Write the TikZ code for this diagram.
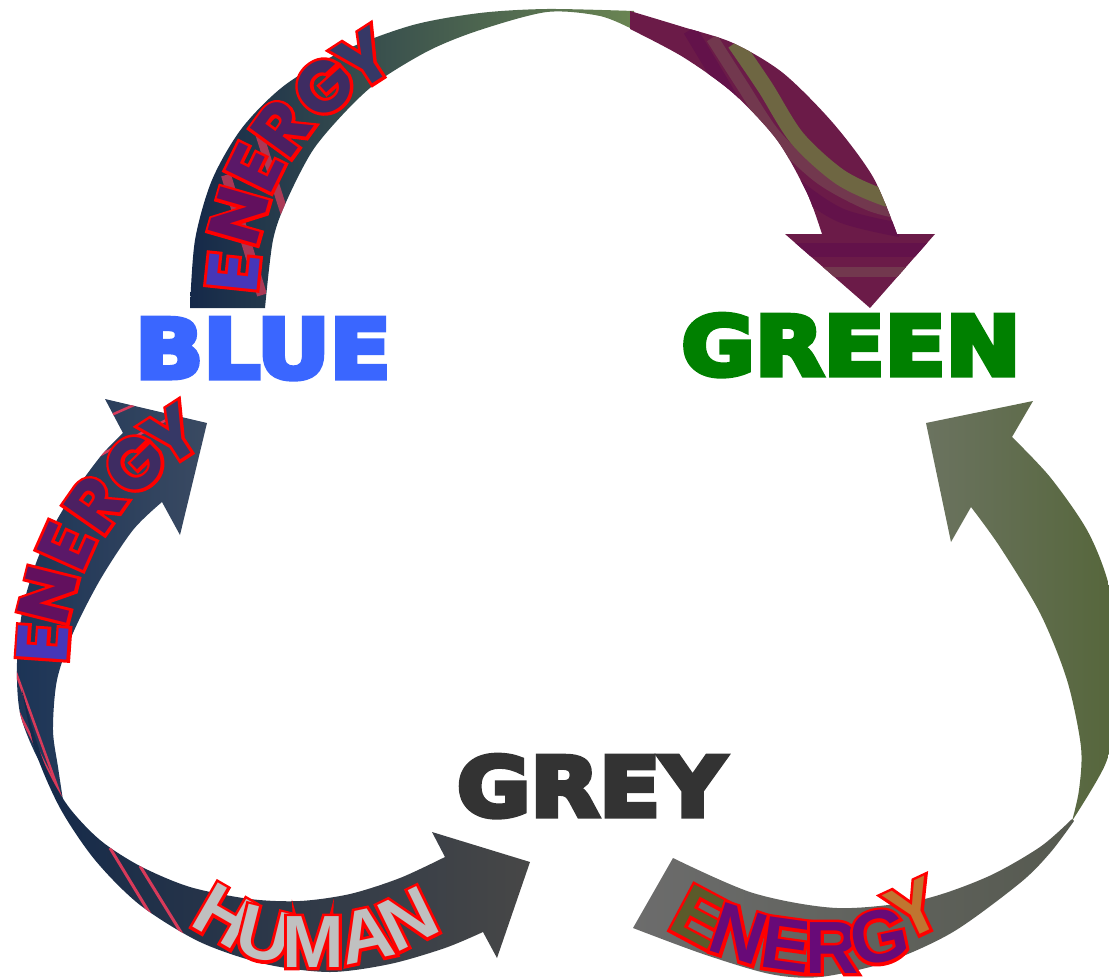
\documentclass[tikz,border=0pt]{standalone}
\usepackage{fontspec}
\newfontfamily\dejavu{DejaVu Sans}
\newfontfamily\pop{Poppins}
\newfontfamily\lib{Liberation Sans}
\newcommand\olon{\special{pdf:literal direct 2 Tr 6 w 1 0 0 RG}}
\newcommand\oloff{\special{pdf:literal direct 0 Tr}}
\newcommand\heavyon{\special{pdf:literal direct 2 Tr 5 w}}
\newcommand\heavy[1]{\scalebox{1.09}[1]{\heavyon #1\oloff}}
\newcommand\popf{\pop\bfseries\fontsize{72}{72}\selectfont}
\newcommand\libf{\lib\bfseries\fontsize{74}{74}\selectfont}
\newcommand\curvlet[6]{\node[letter, font=#5, text=#6, rotate=#3] (#1) at #2 {\rlap{\olon #4\oloff}#4};}
\definecolor{navyA}{HTML}{15294A}
\definecolor{navyB}{HTML}{2C3F4A}
\definecolor{oliveA}{HTML}{6A8552}
\definecolor{maroon}{HTML}{6B1B48}
\definecolor{maroonD}{HTML}{63124A}
\definecolor{maroonL}{HTML}{72384E}
\definecolor{olivestripe}{HTML}{6E6642}
\definecolor{leftL}{HTML}{1C3456}
\definecolor{leftR}{HTML}{3A4A62}
\definecolor{humL}{HTML}{13294A}
\definecolor{humR}{HTML}{474747}
\definecolor{rgtL}{HTML}{6B7360}
\definecolor{rgtR}{HTML}{55663A}
\definecolor{botL}{HTML}{6C6C6C}
\definecolor{botR}{HTML}{565A50}
\definecolor{redstripe}{HTML}{D83A5A}
\definecolor{blueT}{HTML}{3A66FF}
\definecolor{greenT}{HTML}{008000}
\definecolor{greyT}{HTML}{333333}
\definecolor{pA}{HTML}{4636B8}
\definecolor{pB}{HTML}{62105E}
\definecolor{pC}{HTML}{5A1868}
\definecolor{pD}{HTML}{4C2062}
\definecolor{pE}{HTML}{3E2C62}
\definecolor{pF}{HTML}{363866}
\definecolor{bE}{HTML}{5B5A2A}
\definecolor{bP}{HTML}{680A78}
\definecolor{bY}{HTML}{C07530}
\definecolor{humF}{HTML}{C0C0C0}
\tikzset{
  letter/.style={inner sep=0pt, anchor=center},
  bigword/.style={inner sep=0pt, anchor=base},
  topL/.style={insert path={plot[smooth] coordinates{(190,308) (195,240) (212,180) (242,128) (285,85) (345,50) (413,25) (480,13) (547,9) (634,11)} -- plot[smooth] coordinates{(634,30) (600,16) (547,12) (480,30) (430,50) (380,80) (347,110) (313,150) (287,200) (273,240) (265,308)} -- cycle}},
  topR/.style={insert path={plot[smooth] coordinates{(630,11) (683,27) (733,43) (783,73) (833,123) (873,177) (897,234)} -- (935,234) -- (870,308) -- (785,234) -- plot[smooth] coordinates{(822,234) (807,193) (777,140) (733,93) (683,57) (630,29)} -- cycle}},
  leftA/.style={insert path={plot[smooth] coordinates{(123,433) (100,457) (67,503) (40,553) (23,607) (17,663) (20,713) (37,757) (63,800)} -- plot[smooth] coordinates{(63,800) (58,767) (53,730) (57,680) (73,633) (100,580) (133,530) (162,502)} -- (180,535) -- (207,423) -- (105,399) -- cycle}},
  humA/.style={insert path={plot[smooth] coordinates{(22,690) (35,750) (60,808) (95,860) (140,905) (200,942) (265,964) (330,972) (390,964) (445,948) (483,932)} -- (497,958) -- (530,862) -- (432,832) -- plot[smooth] coordinates{(445,857) (400,878) (350,894) (300,901) (250,899) (190,887) (140,866) (100,840) (68,806) (45,765) (30,720)} -- cycle}},
  rgtA/.style={insert path={(926,423) -- (1033,401) -- plot[smooth] coordinates{(1012,437) (1050,477) (1087,530) (1108,582) (1120,650) (1117,715) (1105,765) (1072,821)} -- plot[smooth] coordinates{(1072,821) (1079,790) (1081,747) (1067,680) (1040,613) (1000,547) (971,507)} -- (951,542) -- cycle}},
  botA/.style={insert path={plot[smooth] coordinates{(1074,821) (1050,853) (1020,883) (953,932) (887,962) (820,977) (770,974) (703,954) (633,928)} -- plot[smooth] coordinates{(673,858) (753,893) (837,908) (920,900) (987,877) (1040,847) (1072,819)} -- cycle}}
}
\begin{document}
\begin{tikzpicture}[x=1pt,y=-1pt]
\useasboundingbox (0,0) rectangle (1109,980);
% top arrow BLUE -> GREEN
\shade[left color=navyA, middle color=navyB, right color=oliveA, topL];
\begin{scope}
  \path[clip, topL];
  \draw[line width=10, redstripe, opacity=0.75] (226,175) -- (262,295);
  \draw[line width=8, redstripe, opacity=0.75] (258,130) -- (285,215);
\end{scope}
\fill[maroon, topR];
\begin{scope}
  \path[clip, topR];
  \draw[line width=14, maroonD] plot[smooth] coordinates{(690,30) (720,80) (750,130) (790,180) (840,215) (900,230)};
  \draw[line width=12, maroonL] plot[smooth] coordinates{(712,38) (742,85) (775,135) (820,178) (870,205) (910,215)};
  \draw[line width=16, olivestripe] plot[smooth] coordinates{(735,43) (765,87) (797,138) (840,177) (885,198) (920,205)};
  \draw[line width=14, maroonD] (790,250) -- (930,250);
  \draw[line width=10, maroonL] (800,272) -- (920,272);
\end{scope}
% left arrow -> BLUE
\shade[left color=leftL, right color=leftR, leftA];
\begin{scope}
  \path[clip, leftA];
  \draw[line width=2.5, redstripe] (100,420) -- (150,398);
  \draw[line width=2.5, redstripe] (95,458) -- (185,410);
  \draw[line width=2.5, redstripe] (15,670) -- (62,800);
  \draw[line width=2.5, redstripe] (15,705) -- (58,790);
\end{scope}
% human arrow -> GREY
\shade[left color=humL, right color=humR, humA];
\begin{scope}
  \path[clip, humA];
  \draw[line width=3, redstripe] (110,848) -- (178,960);
  \draw[line width=3, redstripe] (140,866) -- (195,955);
\end{scope}
% right / bottom arrow -> GREEN
\shade[left color=botL, right color=botR, botA];
\shade[left color=rgtL, right color=rgtR, rgtA];
% big words
\node[bigword, text=blueT, font=\dejavu\bfseries\fontsize{82}{82}\selectfont] (blue) at (263,378) {\heavy{BLUE}};
\node[bigword, text=greenT, font=\dejavu\bfseries\fontsize{82}{82}\selectfont] (green) at (851,375) {\heavy{GREEN}};
\node[bigword, text=greyT, font=\dejavu\bfseries\fontsize{82}{82}\selectfont] (grey) at (591,816) {\heavy{GREY}};
% top ENERGY
\curvlet{ta}{(233,272)}{84}{E}{\popf}{pA}
\curvlet{tb}{(239,216)}{74}{N}{\popf}{pB}
\curvlet{tc}{(255,168)}{64}{E}{\popf}{pC}
\curvlet{td}{(282,128)}{54}{R}{\popf}{pD}
\curvlet{te}{(324,87)}{42}{G}{\popf}{pE}
\curvlet{tf}{(364,59)}{33}{Y}{\popf}{pF}
% left ENERGY
\curvlet{la}{(43,643)}{86}{E}{\popf}{pA}
\curvlet{lb}{(48,595)}{76}{N}{\popf}{pB}
\curvlet{lc}{(66,546)}{66}{E}{\popf}{pC}
\curvlet{ld}{(95,504)}{55}{R}{\popf}{pD}
\curvlet{le}{(135,464)}{44}{G}{\popf}{pE}
\curvlet{lf}{(172,435)}{33}{Y}{\popf}{pF}
% HUMAN
\curvlet{ha}{(224,916)}{-30}{H}{\libf}{humF}
\curvlet{hb}{(264,935)}{-14}{U}{\libf}{humF}
\curvlet{hc}{(313,942)}{0}{M}{\libf}{humF}
\curvlet{hd}{(366,935)}{12}{A}{\libf}{humF}
\curvlet{he}{(408,919)}{26}{N}{\libf}{humF}
% bottom ENERGY
\curvlet{ba}{(700,917)}{-28}{E}{\libf}{bE}
\curvlet{bb}{(739,934)}{-18}{N}{\libf}{bP}
\curvlet{bc}{(786,945)}{-8}{E}{\libf}{bP}
\curvlet{bd}{(832,948)}{0}{R}{\libf}{bP}
\curvlet{be}{(879,937)}{12}{G}{\libf}{bP}
\curvlet{bf}{(914,909)}{25}{Y}{\libf}{bY}
\end{tikzpicture}
\end{document}
